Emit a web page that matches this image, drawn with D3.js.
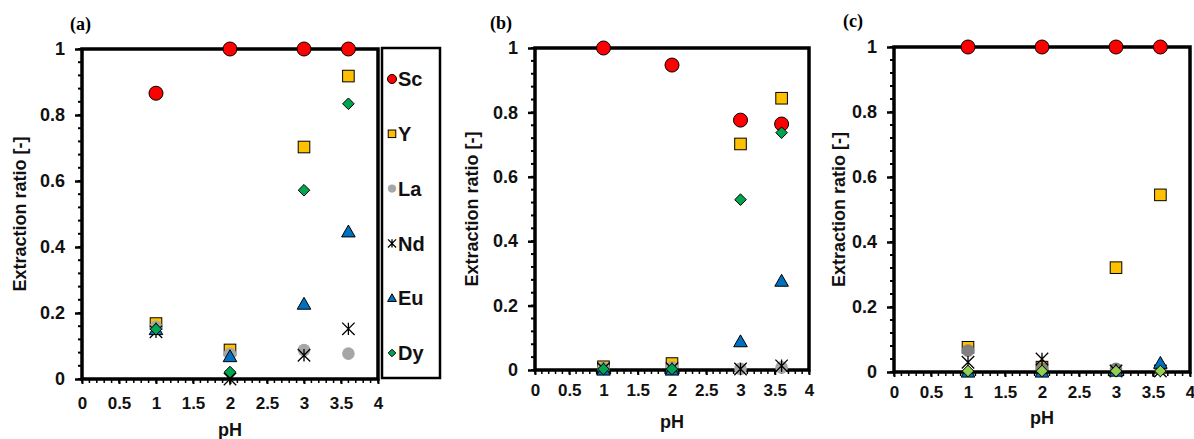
<!DOCTYPE html>
<html>
<head>
<meta charset="utf-8">
<script src="https://cdn.jsdelivr.net/npm/d3@7"></script>
<style>
body { margin: 0; background: #fff; }
text { font-family: "Liberation Sans", Arial, sans-serif; font-weight: bold; }
</style>
</head>
<body>
<div id="chart"></div>
<script>
// pH values shared by all panels
var pH = [1, 2, 3, 3.6];
var elements = ["Sc", "Y", "La", "Nd", "Eu", "Dy"];
var xTicks = [0, 0.5, 1, 1.5, 2, 2.5, 3, 3.5, 4];
var yTicks = [0, 0.2, 0.4, 0.6, 0.8, 1];

// panel (a)
var a_Sc = [0.866, 1, 1, 1];
var a_Y  = [0.168, 0.088, 0.703, 0.918];
var a_La = [0.158, 0.076, 0.088, 0.077];
var a_Nd = [0.143, 0.0, 0.072, 0.152];
var a_Eu = [0.150, 0.068, 0.227, 0.446];
var a_Dy = [0.151, 0.021, 0.572, 0.834];

// panel (b)
var b_Sc = [1, 0.947, 0.776, 0.764];
var b_Y  = [0.010, 0.020, 0.702, 0.844];
var b_La = [0.006, 0.008, 0.004, 0.008];
var b_Nd = [0.004, 0.004, 0.003, 0.013];
var b_Eu = [0.0, 0.0, 0.088, 0.276];
var b_Dy = [0.003, 0.003, 0.529, 0.737];

// panel (c)
var c_Sc = [1, 1, 1, 1];
var c_Y  = [0.076, 0.015, 0.321, 0.545];
var c_La = [0.066, 0.010, 0.010, 0.010];
var c_Nd = [0.030, 0.040, 0.003, 0.003];
var c_Eu = [0.0, 0.0, 0.003, 0.027];
var c_Dy = [0.003, 0.003, 0.003, 0.003];

var svg = d3.select("#chart").append("svg")
    .attr("width", 1194).attr("height", 439);

function marker(g, kind, fill, x, y, s) {
    s = s || 1
    if (kind == "circle") {
        g.append("circle").attr("cx", x).attr("cy", y).attr("r", 7 * s)
            .attr("fill", fill).attr("stroke", "#000").attr("stroke-width", 1);
    } else if (kind == "dot") {
        g.append("circle").attr("cx", x).attr("cy", y).attr("r", 6.3 * s).attr("fill", fill);
    } else if (kind == "square") {
        var h = 5.8 * s
        g.append("rect").attr("x", x - h).attr("y", y - h).attr("width", 2 * h).attr("height", 2 * h)
            .attr("fill", fill).attr("stroke", "#000").attr("stroke-width", 1);
    } else if (kind == "diamond") {
        var h = 5.8 * s
        g.append("path").attr("d", "M" + x + "," + (y - h) + "L" + (x + h) + "," + y + "L" + x + "," + (y + h) + "L" + (x - h) + "," + y + "Z")
            .attr("fill", fill).attr("stroke", "#000").attr("stroke-width", 1);
    } else if (kind == "triangle") {
        var h = 6.8 * s
        g.append("path").attr("d", "M" + x + "," + (y - h) + "L" + (x + h) + "," + (y + h * 0.75) + "L" + (x - h) + "," + (y + h * 0.75) + "Z")
            .attr("fill", fill).attr("stroke", "#000").attr("stroke-width", 1);
    } else if (kind == "star") {
        var h = 6.2 * s
        g.append("path").attr("d", "M" + (x - h) + "," + (y - h) + "L" + (x + h) + "," + (y + h) +
            "M" + (x + h) + "," + (y - h) + "L" + (x - h) + "," + (y + h) +
            "M" + x + "," + (y - h) + "L" + x + "," + (y + h))
            .attr("stroke", fill).attr("stroke-width", 1.3).attr("fill", "none");
    }
}

var kinds = {Sc: "circle", Y: "square", La: "dot", Nd: "star", Eu: "triangle", Dy: "diamond"};

function drawPanel(p) {
    var x = d3.scaleLinear().domain([0, 4]).range([p.left, p.right]);
    var y = d3.scaleLinear().domain([0, 1]).range([p.bottom, p.top]);
    var g = svg.append("g");

    // minor ticks
    g.selectAll(".ymin").data(d3.range(0, 1.0001, 0.04)).enter().append("line")
        .attr("x1", p.left - 4).attr("x2", p.left).attr("y1", d => y(d)).attr("y2", d => y(d))
        .attr("stroke", "#000").attr("stroke-width", 2);
    g.selectAll(".xmin").data(d3.range(0, 4.0001, 0.1)).enter().append("line")
        .attr("x1", d => x(d)).attr("x2", d => x(d)).attr("y1", p.bottom).attr("y2", p.bottom + 4)
        .attr("stroke", "#000").attr("stroke-width", 1.5);

    // major ticks via axes
    var ya = g.append("g").attr("transform", "translate(" + p.left + ",0)")
        .call(d3.axisLeft(y).tickValues(yTicks).tickSize(7).tickFormat(d3.format("~g")));
    ya.select(".domain").remove();
    ya.selectAll("line").attr("stroke-width", 2.5);
    ya.selectAll("text").attr("font-size", 18).attr("x", -17).attr("fill", "#111");

    var xa = g.append("g").attr("transform", "translate(0," + p.bottom + ")")
        .call(d3.axisBottom(x).tickValues(xTicks).tickSize(5).tickFormat(d3.format("~g")));
    xa.select(".domain").remove();
    xa.selectAll("line").attr("stroke-width", 2);
    xa.selectAll("text").attr("font-size", 17).attr("y", p.xlab).attr("dy", 0).attr("fill", "#111");

    // frame
    g.append("rect").attr("x", p.left).attr("y", p.top)
        .attr("width", p.right - p.left).attr("height", p.bottom - p.top)
        .attr("fill", "none").attr("stroke", "#000").attr("stroke-width", 3.5);

    // data
    var series = p.series;
    for (var k = 0; k < elements.length; k++) {
        var el = elements[k];
        var vals = series[el];
        for (var i = 0; i < pH.length; i++) {
            marker(g, kinds[el], p.colors[el], x(pH[i]), y(vals[i]));
        }
    }

    // labels
    g.append("text").attr("x", p.yTitleX).attr("y", (p.top + p.bottom) / 2)
        .attr("transform", "rotate(-90," + p.yTitleX + "," + (p.top + p.bottom) / 2 + ")")
        .attr("text-anchor", "middle").attr("dy", "0.35em").attr("font-size", 18).attr("fill", "#111")
        .text("Extraction ratio [-]");
    g.append("text").attr("x", (p.left + p.right) / 2).attr("y", p.pHY)
        .attr("text-anchor", "middle").attr("dy", "0.35em").attr("font-size", 18).attr("fill", "#111")
        .text("pH");
    g.append("text").attr("x", p.tagX).attr("y", p.tagY)
        .style("font-family", "'Liberation Serif', 'Times New Roman', serif").attr("font-size", 18)
        .text(p.tag);
}

var colsAB = {Sc: "#ff0000", Y: "#ffc000", La: "#a6a6a6", Nd: "#000", Eu: "#0070c0", Dy: "#00a550"};
var colsC = {Sc: "#ff0000", Y: "#ffc000", La: "#808080", Nd: "#000", Eu: "#0070c0", Dy: "#92d050"};

drawPanel({left: 82, right: 378, top: 49, bottom: 379, xlab: 30, yTitleX: 20, pHY: 430, tagX: 70, tagY: 30, tag: "(a)",
    colors: colsAB, series: {Sc: a_Sc, Y: a_Y, La: a_La, Nd: a_Nd, Eu: a_Eu, Dy: a_Dy}});
drawPanel({left: 535, right: 809, top: 48, bottom: 370, xlab: 26, yTitleX: 472, pHY: 422, tagX: 490, tagY: 29, tag: "(b)",
    colors: colsAB, series: {Sc: b_Sc, Y: b_Y, La: b_La, Nd: b_Nd, Eu: b_Eu, Dy: b_Dy}});
drawPanel({left: 894, right: 1190, top: 47, bottom: 372, xlab: 26, yTitleX: 839, pHY: 418, tagX: 843, tagY: 27, tag: "(c)",
    colors: colsC, series: {Sc: c_Sc, Y: c_Y, La: c_La, Nd: c_Nd, Eu: c_Eu, Dy: c_Dy}});

// legend for panel (a)
var lg = svg.append("g");
lg.append("rect").attr("x", 382).attr("y", 48).attr("width", 58).attr("height", 330)
    .attr("fill", "#fff").attr("stroke", "#000").attr("stroke-width", 2.5);
elements.forEach(function(el, i) {
    var ly = 79 + i * 54.8;
    marker(lg, kinds[el], colsAB[el], 392, ly, 0.65);
    lg.append("text").attr("x", 398).attr("y", ly).attr("dy", "0.36em")
        .attr("font-size", 20).attr("fill", "#111").text(el);
});
</script>
</body>
</html>
